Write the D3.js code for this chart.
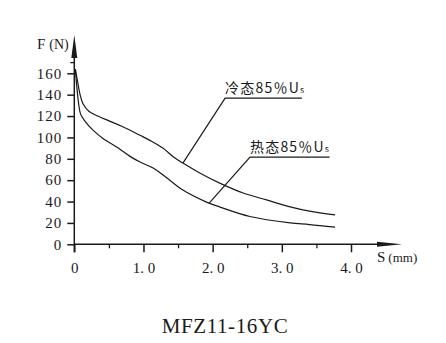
<!DOCTYPE html>
<html><head><meta charset="utf-8">
<script src="https://cdn.jsdelivr.net/npm/d3@7"></script>
<style>html,body{margin:0;padding:0;background:#fff;}svg{display:block;}</style>
</head><body>
<script>
const coldS = [0.015, 0.05, 0.08, 0.126, 0.21, 0.34, 0.5, 0.7, 0.95, 1.1, 1.28, 1.43, 1.57, 1.82, 2.11, 2.44, 2.78, 3.12, 3.4, 3.77];
const coldF = [164, 151.5, 141, 131.5, 124.5, 120, 115.5, 110, 102, 97, 90, 82, 76, 66.5, 57, 48, 41.5, 35, 31, 27.5];
const hotS = [0.015, 0.03, 0.064, 0.09, 0.14, 0.27, 0.41, 0.66, 0.8, 0.95, 1.14, 1.34, 1.57, 1.91, 2.1, 2.54, 3.12, 3.4, 3.77];
const hotF = [164, 151.7, 131, 122, 116.5, 106.8, 99.3, 89, 82.5, 77, 71.3, 62, 50.7, 39.5, 35, 26, 20, 18.5, 16];
const yTicks = [0, 20, 40, 60, 80, 100, 120, 140, 160];
const xMajor = [0, 1, 2, 3, 4];
const xMajorLabels = ["0", "1. 0", "2. 0", "3. 0", "4. 0"];
const xMinor = [0.5, 1.5, 2.5, 3.5];
const coldLeader = [[1.57, 76], [2.18, 136.7], [3.29, 136.7]];
const hotLeader = [[1.95, 38.5], [2.54, 81.6], [3.69, 81.6]];
const coldLabel = {s: 2.18, f: 142, main: "冷态85％U", sub: "s"};
const hotLabel = {s: 2.54, f: 86.5, main: "热态85％U", sub: "s"};
const title = "MFZ11-16YC";

const W = 446, H = 343;
const svg = d3.select("body").append("svg").attr("width", W).attr("height", H);
const x = d3.scaleLinear().domain([0, 4]).range([74.3, 351]);
const y = d3.scaleLinear().domain([0, 160]).range([244.3, 73.3]);
const font = "'Liberation Serif', serif";
const ink = "#1a1a1a";

// Y axis
const yAxis = d3.axisLeft(y).tickValues(yTicks).tickSize(7).tickPadding(5).tickFormat(d3.format("d"));
const gy = svg.append("g").attr("transform", `translate(${x(0)},0)`).call(yAxis)
  .attr("font-family", font).attr("font-size", 15);
gy.select(".domain").remove();
gy.selectAll(".tick line").attr("stroke", ink).attr("stroke-width", 1.5);
gy.selectAll(".tick text").attr("font-family", font).attr("font-size", 15).attr("fill", ink).attr("letter-spacing", "1px");
svg.append("line").attr("x1", x(0)).attr("x2", x(0)).attr("y1", y(0) + 8).attr("y2", 50)
  .attr("stroke", ink).attr("stroke-width", 1.5);
svg.append("line").attr("x1", x(0) - 4).attr("x2", x(0)).attr("y1", y(170)).attr("y2", y(170))
  .attr("stroke", ink).attr("stroke-width", 1.3);
svg.append("path").attr("d", `M${x(0)},35 L${x(0) - 3},58 L${x(0) + 3},58 Z`).attr("fill", ink);

// X axis
const xAxis = d3.axisBottom(x).tickValues(xMajor).tickSize(8).tickPadding(10)
  .tickFormat((d, i) => xMajorLabels[i]);
const gx = svg.append("g").attr("transform", `translate(0,${y(0)})`).call(xAxis)
  .attr("font-family", font).attr("font-size", 15);
gx.select(".domain").remove();
gx.selectAll(".tick line").attr("stroke", ink).attr("stroke-width", 1.5);
gx.selectAll(".tick text").attr("font-family", font).attr("font-size", 15).attr("fill", ink);
const gxm = svg.append("g").attr("transform", `translate(0,${y(0)})`)
  .call(d3.axisBottom(x).tickValues(xMinor).tickSize(4).tickFormat(""));
gxm.select(".domain").remove();
gxm.selectAll(".tick line").attr("stroke", ink).attr("stroke-width", 1.3);
svg.append("line").attr("x1", x(0)).attr("x2", 385).attr("y1", y(0)).attr("y2", y(0))
  .attr("stroke", ink).attr("stroke-width", 1.5);
svg.append("path").attr("d", `M402,${y(0)} L377,${y(0) - 2.5} L377,${y(0) + 2.5} Z`).attr("fill", ink);

// axis titles
const ft = svg.append("text").attr("x", 37).attr("y", 49).attr("font-family", font).attr("font-size", 15).attr("fill", ink);
ft.append("tspan").text("F");
ft.append("tspan").attr("dx", 4).attr("font-size", 14).text("(N)");
const st = svg.append("text").attr("x", 377).attr("y", 262).attr("font-family", font).attr("font-size", 15).attr("fill", ink);
st.append("tspan").text("S");
st.append("tspan").attr("dx", 3).attr("font-size", 13).text("(mm)");

// curves
const line = d3.line().x(d => x(d[0])).y(d => y(d[1])).curve(d3.curveCatmullRom.alpha(0.5));
const cold = coldS.map((s, i) => [s, coldF[i]]);
const hot = hotS.map((s, i) => [s, hotF[i]]);
[cold, hot].forEach(data => {
  svg.append("path").datum(data).attr("d", line).attr("fill", "none")
    .attr("stroke", ink).attr("stroke-width", 1.2);
});
const lin = d3.line().x(d => x(d[0])).y(d => y(d[1]));
[coldLeader, hotLeader].forEach(data => {
  svg.append("path").datum(data).attr("d", lin).attr("fill", "none")
    .attr("stroke", ink).attr("stroke-width", 1.2);
});
[coldLabel, hotLabel].forEach(l => {
  const t = svg.append("text").attr("x", x(l.s)).attr("y", y(l.f))
    .attr("font-family", "Noto Sans CJK SC").attr("font-size", 14).attr("fill", ink)
    .attr("letter-spacing", "1.2px");
  t.append("tspan").text(l.main);
  t.append("tspan").attr("font-size", 9).text(l.sub);
});

// title
svg.append("text").attr("x", 225).attr("y", 333).attr("text-anchor", "middle")
  .attr("font-family", font).attr("font-size", 21).attr("letter-spacing", "0.6px").attr("fill", ink).text(title);
</script>
</body></html>
